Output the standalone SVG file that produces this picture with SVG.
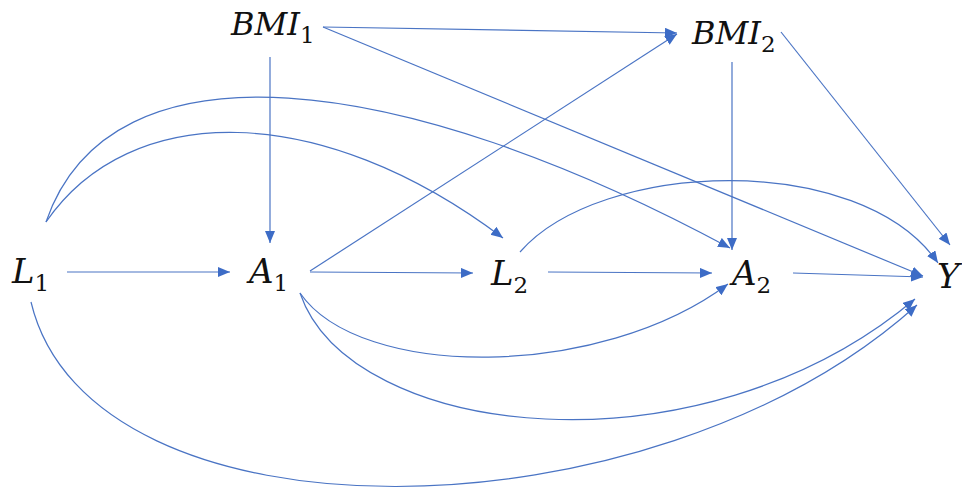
<svg xmlns="http://www.w3.org/2000/svg" width="962" height="493" viewBox="0 0 962 493">
<style>
.lbl{font-family:"DejaVu Serif","Liberation Serif",serif;font-style:italic;fill:#111;}
.big{font-size:34px;}
.bmi{font-size:32px;}
.sub{font-style:normal;font-size:23px;}
.e{fill:none;stroke:#4a74c4;stroke-width:1.2;marker-end:url(#ah);}
</style>
<defs>
<marker id="ah" markerUnits="userSpaceOnUse" markerWidth="13" markerHeight="11" refX="12" refY="5" orient="auto">
<path d="M0,0 L12,5 L0,10 Z" fill="#3d6cc6"/>
</marker>
</defs>
<rect width="962" height="493" fill="#fff"/>
<g id="edges">
<path class="e" d="M67,272 L230,272"/>
<path class="e" d="M270,57 L270,243"/>
<path class="e" d="M323,27 L677,33"/>
<path class="e" d="M323,27 L923,276"/>
<path class="e" d="M310,271 L677,34"/>
<path class="e" d="M310,272 L473,273"/>
<path class="e" d="M548,272 L712,273"/>
<path class="e" d="M793,273 L923,277"/>
<path class="e" d="M732,62 L732,250"/>
<path class="e" d="M781,32 L950,245"/>
<path class="e" d="M46,222 C130,100 320,100 503,238"/>
<path class="e" d="M46,222 C110,35 400,70 730,248"/>
<path class="e" d="M520,252 C600,160 860,150 938,263"/>
<path class="e" d="M300,293 C360,380 600,380 728,284"/>
<path class="e" d="M300,293 C350,440 700,480 915,299"/>
<path class="e" d="M31,302 C90,550 650,545 917,305"/>
</g>
<g id="L1"><text class="lbl big" x="12" y="283">L<tspan class="sub" dy="8">1</tspan></text></g>
<g id="A1"><text class="lbl big" x="249" y="283">A<tspan class="sub" dy="8">1</tspan></text></g>
<g id="L2"><text class="lbl big" x="491" y="285">L<tspan class="sub" dy="8">2</tspan></text></g>
<g id="A2"><text class="lbl big" x="732" y="285">A<tspan class="sub" dy="8">2</tspan></text></g>
<g id="Y"><text class="lbl big" x="937" y="288">Y</text></g>
<g id="BMI1"><text class="lbl bmi" x="231" y="35">BMI<tspan class="sub" dy="8">1</tspan></text></g>
<g id="BMI2"><text class="lbl bmi" x="692" y="44">BMI<tspan class="sub" dy="8">2</tspan></text></g>
</svg>
